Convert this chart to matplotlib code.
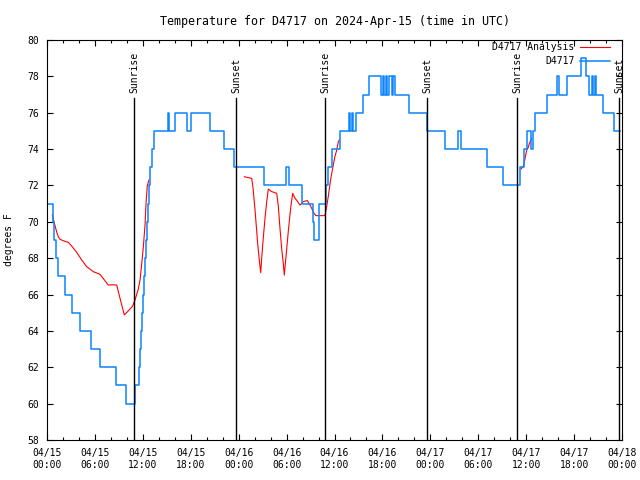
import matplotlib
matplotlib.use('Agg')
import matplotlib.pyplot as plt
import numpy as np
from matplotlib.ticker import MultipleLocator

# hours since 2024-04-15 00:00 UTC
obs_hours = [0.00, 0.69, 0.88, 1.13, 1.38, 2.25, 3.13, 4.07, 5.51, 6.64, 8.58, 9.89,
             10.98, 11.46, 11.61, 11.75, 11.87, 12.00, 12.12, 12.25, 12.37, 12.50,
             12.62, 12.75, 12.94, 13.15, 13.46, 15.17, 15.28, 16.06, 17.49, 17.99,
             20.41, 22.13, 23.45, 27.21, 29.93, 30.30, 31.87, 33.27, 33.47, 34.03,
             34.12, 34.94, 35.19, 35.69, 36.69, 37.82, 38.00, 38.19, 38.32, 38.65,
             39.53, 40.36, 41.87, 42.06, 42.25, 42.44, 42.63, 42.81, 43.19, 43.38,
             43.56, 45.36, 47.55, 49.88, 51.46, 51.78, 55.06, 57.04, 59.29, 59.73,
             60.11, 60.61, 60.86, 61.11, 62.57, 63.86, 64.05, 65.08, 66.87, 67.49,
             67.93, 68.27, 68.40, 68.59, 68.72, 69.63, 71.06, 71.75]
obs_temp = [71, 70, 69, 68, 67, 66, 65, 64, 63, 62, 61, 60,
            61, 62, 63, 64, 65, 66, 67, 68, 69, 70,
            71, 72, 73, 74, 75, 76, 75, 76, 75, 76,
            75, 74, 73, 72, 73, 72, 71, 70, 69, 70,
            71, 72, 73, 74, 75, 76, 75, 76, 75, 76,
            77, 78, 77, 78, 77, 78, 77, 78, 77, 78,
            77, 76, 75, 74, 75, 74, 73, 72, 73, 74,
            75, 74, 75, 76, 77, 78, 77, 78, 79, 78,
            77, 78, 77, 78, 77, 76, 75, 75]

nan = np.nan
ana_hours = [0.66, 0.79, 1.00, 1.21, 1.41, 1.63, 2.04, 2.67, 3.09, 3.72, 4.35, 4.97,
             5.80, 6.64, 7.26, 7.68, 8.23, 8.73, 9.14, 9.68, 10.18, 10.73, 11.02,
             11.43, 11.65, 11.86, 12.06, 12.27, 12.40, 12.56, 12.77, nan,
             24.71, 25.21, 25.63, 25.79, 26.05, 26.38, 26.58, 26.76, 26.88, 27.08,
             27.30, 27.51, 27.71, 28.14, 28.76, 28.96, 29.18, 29.39, 29.59, 29.71,
             29.93, 30.22, 30.52, 30.77, 31.05, 31.39, 31.68, 32.09, 32.59, 32.81,
             33.15, 33.43, 33.68, 34.81, 35.02, 35.22, 35.44, 35.65, 36.06, 36.28,
             36.48, 36.60, nan,
             59.35, 59.64, 59.85, 60.07, 60.27, 60.39, 60.69]
ana_temp = [70.37, 70.14, 69.80, 69.45, 69.18, 69.04, 68.96, 68.87, 68.67, 68.32, 67.90, 67.53,
            67.26, 67.11, 66.76, 66.52, 66.54, 66.52, 65.80, 64.88, 65.10, 65.37, 65.70,
            66.30, 66.80, 67.70, 68.60, 69.80, 71.00, 72.00, 72.30, nan,
            72.48, 72.43, 72.39, 71.90, 70.65, 68.80, 67.90, 67.20, 68.00, 69.10,
            70.20, 71.10, 71.80, 71.66, 71.57, 70.90, 69.60, 68.50, 67.70, 67.07,
            68.10, 69.50, 70.80, 71.57, 71.30, 71.11, 70.92, 71.11, 71.17, 71.02,
            70.74, 70.47, 70.34, 70.34, 70.84, 71.39, 72.10, 72.67, 73.60, 73.95,
            74.40, 74.50, nan,
            72.90, 73.05, 73.45, 73.95, 74.10, 74.30, 74.60]

sun_hours = [10.89, 23.67, 34.81, 47.58, 58.85, 71.63]
sun_names = ['Sunrise', 'Sunset', 'Sunrise', 'Sunset', 'Sunrise', 'Sunset']

xtick_labels = ['04/15\n00:00', '04/15\n06:00', '04/15\n12:00', '04/15\n18:00',
                '04/16\n00:00', '04/16\n06:00', '04/16\n12:00', '04/16\n18:00',
                '04/17\n00:00', '04/17\n06:00', '04/17\n12:00', '04/17\n18:00',
                '04/18\n00:00']

plt.rcParams['font.family'] = 'DejaVu Sans Mono'
plt.rcParams['font.size'] = 7

fig = plt.figure(figsize=(6.4, 4.8), dpi=100)
ax = fig.add_axes([47 / 640, 40 / 480, 575 / 640, 400 / 480])

ax.plot(ana_hours, ana_temp, color='red', lw=0.8, label='D4717 Analysis')
ax.step(obs_hours, obs_temp, where='post', color='#0a84ff', lw=1.1, label='D4717')

for h, name in zip(sun_hours, sun_names):
    ax.plot([h, h], [58, 76.8], color='black', lw=1.0)
    ax.text(h + 0.1, 77.1, name, rotation=90, ha='center', va='bottom')

ax.set_xlim(0, 72)
ax.set_ylim(58, 80)
ax.set_xticks(np.arange(0, 73, 6))
ax.set_xticklabels(xtick_labels)
ax.xaxis.set_minor_locator(MultipleLocator(2))
ax.set_yticks(range(58, 81, 2))
ax.tick_params(which='both', direction='in', top=True, right=True, width=0.8)
ax.tick_params(which='major', length=4)
ax.tick_params(which='minor', length=2)
ax.tick_params(axis='y', pad=6)
ax.tick_params(axis='x', pad=6)
for s in ax.spines.values():
    s.set_linewidth(0.8)

ax.set_ylabel('degrees F')
ax.yaxis.set_label_coords(-0.058, 0.5)
ax.set_title('Temperature for D4717 on 2024-Apr-15 (time in UTC)', pad=11)

ax.legend(loc='upper right', bbox_to_anchor=(0.982, 1.0), borderaxespad=0, borderpad=0.2,
          frameon=False, markerfirst=False, handlelength=3.1, handletextpad=0.5,
          labelspacing=0.45)

plt.savefig('out.png', dpi=100)
